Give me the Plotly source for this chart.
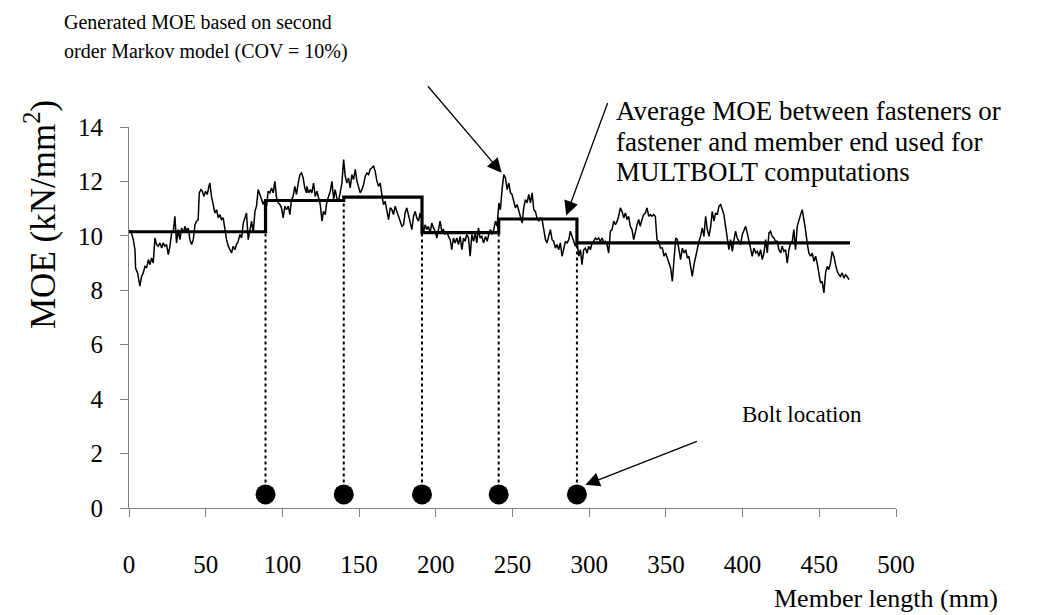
import plotly.graph_objects as go

# ---------------- data ----------------
moe_x = [0, 1.3, 2.8, 3.9, 4.3, 5.6, 7.1, 8.2, 9.3, 10.4, 11.5, 12.6, 13.7, 14.7, 15.8, 16.9, 18.0, 19.1, 20.2, 21.3,
         22.3, 23.4, 24.5, 25.6, 26.7, 27.8, 28.9, 29.9, 31.0, 32.1, 33.2, 34.3, 35.4, 36.5, 37.5, 38.6, 39.7, 40.8,
         41.9, 43.0, 44.1, 45.1, 45.8, 46.9, 47.8, 48.8, 49.9, 51.0, 52.1, 52.7, 53.8, 54.9, 56.0, 57.1, 58.2, 59.3,
         60.3, 61.4, 62.5, 63.6, 64.7, 65.8, 66.9, 67.9, 69.0, 70.1, 71.2, 72.3, 73.4, 74.5, 75.5, 76.6, 77.7, 78.8,
         79.9, 81.0, 82.1, 83.1, 84.2, 85.3, 86.4, 87.5, 88.6, 89.7, 90.7, 91.8, 92.9, 94.0, 95.1, 96.2, 97.3, 98.4,
         99.4, 100.5, 101.6, 102.7, 103.8, 104.9, 105.9, 107.0, 108.1, 109.2, 110.3, 111.4, 112.5, 113.5, 114.6,
         115.7, 116.0, 117.1, 118.2, 119.2, 120.3, 121.4, 122.5, 123.6, 124.7, 125.8, 126.8, 127.9, 129.0, 130.1,
         131.2, 132.3, 133.4, 134.4, 135.5, 136.6, 137.7, 138.8, 139.9, 141.0, 142.0, 143.1, 144.2, 145.3, 146.4,
         147.5, 148.6, 149.6, 150.7, 151.8, 152.9, 154.0, 155.1, 156.2, 157.2, 158.3, 159.4, 160.5, 161.6, 162.7,
         163.8, 164.8, 165.9, 167.0, 168.1, 169.2, 170.3, 171.4, 172.4, 173.5, 174.6, 175.7, 176.8, 177.9, 179.0,
         180.0, 181.1, 182.2, 183.3, 184.4, 185.5, 186.6, 187.6, 188.7, 189.8, 190.9, 192.0, 193.1, 194.2, 195.2,
         196.3, 197.4, 198.5, 199.6, 200.7, 201.8, 202.8, 203.9, 205.0, 206.1, 207.2, 208.3, 209.4, 210.4, 211.5,
         212.6, 213.7, 214.8, 215.9, 217.0, 218.1, 219.1, 220.2, 221.3, 222.4, 223.5, 224.6, 225.7, 226.7, 227.8,
         228.9, 230.0, 231.1, 232.4, 233.5, 234.5, 235.6, 236.7, 237.8, 238.9, 240.0, 241.1, 242.1, 243.2, 244.3,
         245.4, 246.5, 247.6, 248.7, 249.7, 250.8, 251.9, 253.0, 254.1, 255.2, 256.3, 257.3, 258.4, 259.5, 260.6,
         261.7, 262.8, 263.9, 264.9, 266.0, 267.1, 268.2, 269.3, 270.4, 271.5, 272.5, 273.6, 274.7, 275.8, 276.9,
         278.0, 279.1, 280.1, 281.2, 282.3, 283.4, 284.5, 285.6, 286.7, 287.7, 288.8, 289.9, 291.0, 292.1, 293.2,
         294.3, 295.3, 296.4, 297.5, 298.6, 299.7, 300.8, 301.9, 302.9, 304.0, 305.1, 306.2, 307.3, 308.4, 309.5,
         310.5, 311.6, 312.7, 313.8, 314.9, 316.0, 317.1, 318.2, 319.2, 320.3, 321.4, 322.5, 323.6, 324.7, 325.7,
         326.8, 327.9, 329.0, 330.1, 331.2, 332.3, 333.3, 334.4, 335.5, 336.6, 337.7, 338.8, 339.9, 340.9, 342.0,
         343.1, 344.2, 345.3, 346.4, 347.7, 348.8, 349.8, 350.9, 352.0, 353.1, 354.2, 355.3, 356.4, 357.4, 358.5,
         359.6, 360.7, 361.8, 362.9, 364.0, 365.0, 366.1, 367.2, 368.3, 369.4, 370.5, 371.6, 372.6, 373.7, 374.8,
         375.9, 377.0, 378.1, 379.2, 380.2, 381.3, 382.4, 383.5, 384.6, 385.7, 386.8, 387.8, 388.9, 390.0, 391.1,
         392.2, 393.3, 394.4, 395.4, 396.5, 397.6, 398.7, 399.8, 400.9, 402.0, 403.0, 404.1, 405.2, 406.3, 407.4,
         408.5, 409.6, 410.6, 411.7, 412.8, 413.9, 415.0, 416.1, 417.2, 418.2, 419.3, 420.4, 421.5, 422.6, 423.7,
         424.8, 425.8, 426.9, 428.0, 429.1, 430.2, 431.3, 432.4, 433.4, 434.5, 435.6, 436.7, 437.8, 438.9, 440.0,
         441.0, 442.1, 443.2, 444.3, 445.4, 446.5, 447.6, 448.6, 449.7, 450.8, 451.9, 453.0, 454.1, 455.2, 456.2,
         457.3, 458.4, 459.5, 460.6, 461.7, 462.8, 463.8, 464.9, 466.0, 467.1, 468.2, 469.3]

moe_y = [10.2, 10.17, 9.86, 9.49, 8.82, 8.64, 8.15, 8.51, 8.64, 8.88, 8.82, 9.13, 8.94, 9.19, 9.0, 9.92, 9.68, 9.62,
         9.74, 9.55, 9.74, 9.62, 9.68, 9.31, 9.62, 10.11, 10.17, 10.72, 9.74, 10.23, 9.86, 10.29, 10.11, 10.35, 10.17,
         10.29, 9.86, 9.68, 9.86, 10.41, 10.54, 10.6, 11.58, 11.7, 11.64, 11.45, 11.64, 11.52, 11.82, 11.94, 11.45,
         11.15, 10.84, 10.96, 10.66, 10.78, 10.6, 10.66, 10.23, 9.86, 9.62, 9.49, 9.37, 9.62, 9.49, 9.68, 9.8, 10.05,
         9.92, 10.47, 10.66, 10.84, 9.86, 10.29, 10.54, 10.11, 10.9, 11.09, 11.7, 11.52, 11.33, 11.15, 11.33, 11.09,
         11.64, 11.58, 11.76, 11.58, 12.0, 11.39, 11.21, 11.15, 11.03, 10.66, 11.09, 10.96, 11.09, 10.78, 11.33,
         11.45, 11.82, 11.52, 11.94, 12.25, 12.31, 12.13, 11.76, 11.58, 11.82, 11.58, 11.7, 11.58, 11.94, 11.45,
         11.64, 11.39, 11.15, 10.54, 10.9, 10.78, 11.27, 11.45, 11.64, 12.0, 11.33, 11.7, 11.39, 11.27, 11.58, 11.94,
         12.8, 12.19, 11.94, 12.13, 11.76, 12.25, 12.07, 12.44, 12.01, 11.76, 11.58, 11.7, 11.88, 12.19, 12.31,
         12.25, 12.44, 12.5, 12.56, 12.37, 12.01, 11.82, 11.94, 11.52, 11.15, 11.27, 10.9, 10.6, 11.03, 10.96, 10.78,
         11.09, 10.9, 10.72, 10.54, 10.35, 10.41, 10.84, 11.03, 10.72, 10.41, 10.23, 10.72, 10.9, 10.66, 10.54,
         10.84, 10.6, 10.11, 10.41, 10.23, 10.35, 10.11, 10.47, 10.29, 10.17, 9.92, 10.29, 10.54, 10.17, 10.23,
         10.05, 10.17, 9.98, 9.86, 9.49, 9.92, 9.74, 9.92, 9.68, 9.98, 9.49, 9.92, 9.8, 10.05, 9.92, 9.25, 10.05, 9.8,
         10.11, 9.74, 10.29, 9.92, 9.98, 9.74, 9.98, 9.8, 10.05, 10.23, 10.05, 10.23, 10.54, 10.35, 11.21, 10.96,
         11.7, 12.25, 12.13, 11.7, 11.94, 11.58, 11.52, 11.21, 11.03, 11.15, 10.9, 10.72, 10.47, 11.03, 11.33, 11.21,
         11.52, 11.21, 11.58, 10.96, 10.9, 10.66, 10.54, 10.66, 10.6, 10.23, 9.86, 9.74, 9.98, 10.23, 9.86, 9.8,
         9.55, 9.68, 9.49, 9.74, 9.25, 9.55, 9.8, 9.74, 9.86, 10.17, 9.98, 9.8, 9.62, 9.8, 9.25, 9.49, 8.94, 9.49,
         9.55, 9.37, 9.62, 9.49, 9.74, 9.8, 9.92, 9.86, 9.92, 9.8, 9.92, 9.74, 9.8, 9.68, 9.37, 10.17, 10.23, 10.54,
         10.41, 10.54, 10.72, 11.03, 10.9, 10.66, 10.84, 10.6, 10.72, 10.35, 10.23, 9.86, 10.17, 10.41, 10.6, 10.35,
         10.6, 10.78, 10.84, 11.03, 10.72, 10.78, 10.72, 10.78, 10.72, 9.86, 9.8, 9.55, 9.55, 9.25, 9.37, 9.13, 9.0,
         8.82, 8.33, 9.13, 9.92, 9.86, 9.43, 9.13, 9.55, 9.37, 9.49, 9.19, 9.25, 8.94, 8.51, 8.94, 9.25, 9.55, 9.8,
         9.98, 10.29, 9.98, 10.72, 10.23, 9.98, 10.35, 10.9, 10.54, 10.84, 10.78, 11.09, 11.15, 10.96, 10.78, 10.35,
         9.8, 9.49, 9.86, 9.43, 9.86, 10.17, 9.92, 9.8, 9.68, 10.05, 10.23, 10.35, 10.11, 9.86, 9.55, 9.25, 9.55,
         9.37, 9.43, 9.25, 9.49, 9.13, 9.37, 9.86, 9.37, 10.11, 10.17, 9.98, 9.92, 9.8, 9.8, 9.49, 9.37, 9.62, 9.43,
         9.49, 9.0, 9.49, 9.74, 9.8, 10.23, 9.49, 10.35, 10.6, 10.78, 10.96, 10.6, 10.23, 9.74, 9.37, 9.25, 9.37,
         9.06, 9.25, 9.0, 8.64, 8.27, 8.33, 7.9, 8.64, 8.88, 8.76, 9.0, 9.43, 9.25, 8.94, 8.7, 8.57, 8.51, 8.64,
         8.45, 8.57, 8.51, 8.39]

bolt_x = [89, 140, 191, 241, 292]
bolt_y = [0.5, 0.5, 0.5, 0.5, 0.5]
member_end = 470
avg_levels = [10.15, 11.3, 11.42, 10.12, 10.62, 9.74]

x_ticks = [0, 50, 100, 150, 200, 250, 300, 350, 400, 450, 500]
y_ticks = [0, 2, 4, 6, 8, 10, 12, 14]

gen_lines = ["Generated MOE based on second", "order Markov model (COV = 10%)"]
avg_lines = ["Average MOE between fasteners or", "fastener and member end used for", "MULTBOLT computations"]

# ---------------- layout constants ----------------
W, H = 1044, 615
L, R, T, B = 129, 148, 127, 107
FONT = "Liberation Serif"
AXIS_GRAY = "#808080"

pw, ph = W - L - R, H - T - B


def px(xp):
    return (xp - L) / pw


def py(yp):
    return (H - B - yp) / ph


fig = go.Figure()

# dotted lines from bolts up to the averaged step line
bounds = [0] + bolt_x + [member_end]
for i, bx in enumerate(bolt_x):
    top = min(avg_levels[i], avg_levels[i + 1])
    fig.add_trace(go.Scatter(x=[bx, bx], y=[bolt_y[i], top], mode="lines",
                             line=dict(color="black", width=2, dash="dot"),
                             hoverinfo="skip", showlegend=False))

# generated MOE
fig.add_trace(go.Scatter(x=moe_x, y=moe_y, mode="lines",
                         line=dict(color="black", width=1.5),
                         showlegend=False))

# averaged step line
sx, sy = [], []
for i, lv in enumerate(avg_levels):
    sx += [bounds[i], bounds[i + 1]]
    sy += [lv, lv]
fig.add_trace(go.Scatter(x=sx, y=sy, mode="lines",
                         line=dict(color="black", width=3.2),
                         showlegend=False))

# bolts
fig.add_trace(go.Scatter(x=bolt_x, y=bolt_y, mode="markers",
                         marker=dict(color="black", size=20, line=dict(width=0)),
                         showlegend=False))

TICKFS = 25
fig.update_layout(
    width=W, height=H,
    margin=dict(l=L, r=R, t=T, b=B),
    paper_bgcolor="white", plot_bgcolor="white",
    font=dict(family=FONT, size=22, color="black"),
    xaxis=dict(range=[0, 500], tickvals=x_ticks, showline=True, linecolor=AXIS_GRAY, linewidth=1,
               ticks="outside", ticklen=8, tickcolor=AXIS_GRAY, showgrid=False, zeroline=False,
               ticklabelstandoff=26, tickfont=dict(family=FONT, size=TICKFS, color="black")),
    yaxis=dict(range=[0, 14], tickvals=y_ticks, showline=True, linecolor=AXIS_GRAY, linewidth=1,
               ticks="outside", ticklen=8, tickcolor=AXIS_GRAY, showgrid=False, zeroline=False,
               ticklabelstandoff=12, tickfont=dict(family=FONT, size=TICKFS, color="black")),
)

ann = []
# axis titles
ann.append(dict(text="MOE (kN/mm<sup>2</sup>)", xref="paper", yref="paper", x=px(40), y=py(215),
                textangle=-90, showarrow=False, xanchor="center", yanchor="middle",
                font=dict(size=35)))
ann.append(dict(text="Member length (mm)", xref="paper", yref="paper", x=px(1000), y=py(598),
                showarrow=False, xanchor="right", yanchor="middle", font=dict(size=26)))
# text labels
for i, t in enumerate(gen_lines):
    ann.append(dict(text=t, xref="paper", yref="paper", x=px(62), y=py(22 + 30 * i),
                    showarrow=False, xanchor="left", yanchor="middle", font=dict(size=20)))
for i, t in enumerate(avg_lines):
    ann.append(dict(text=t, xref="paper", yref="paper", x=px(614), y=py(111 + 30.5 * i),
                    showarrow=False, xanchor="left", yanchor="middle", font=dict(size=27)))
ann.append(dict(text="Bolt location", xref="paper", yref="paper", x=px(740), y=py(414),
                showarrow=False, xanchor="left", yanchor="middle", font=dict(size=23)))
# arrows
ann.append(dict(x=242.9, y=12.32, xref="x", yref="y", ax=-75, ay=-88, text="", showarrow=True,
                arrowhead=2, arrowsize=2.2, arrowwidth=1.3, arrowcolor="black"))
ann.append(dict(x=285, y=10.75, xref="x", yref="y", ax=42, ay=-114, text="", showarrow=True,
                arrowhead=2, arrowsize=2.2, arrowwidth=1.3, arrowcolor="black"))
ann.append(dict(x=297.5, y=0.85, xref="x", yref="y", ax=113, ay=-44, text="", showarrow=True,
                arrowhead=2, arrowsize=2.2, arrowwidth=1.3, arrowcolor="black"))
fig.update_layout(annotations=ann)

fig.write_html("out.html")
